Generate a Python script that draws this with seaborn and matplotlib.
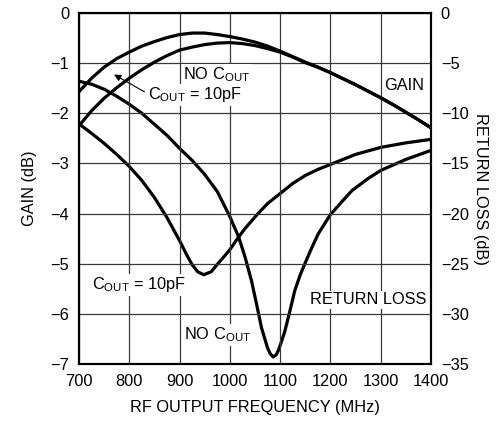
import pandas as pd
import matplotlib
matplotlib.use("Agg")
import matplotlib.pyplot as plt
from matplotlib import font_manager
import seaborn as sns

# gain curves (left axis, dB)
gain_freq = [700, 725, 750, 775, 800, 825, 850, 875, 900, 925, 950, 975, 1000,
             1025, 1050, 1075, 1100, 1125, 1150, 1175, 1200, 1225, 1250, 1275,
             1300, 1325, 1350, 1375, 1400]
gain_10pf = [-1.57, -1.30, -1.08, -0.91, -0.78, -0.66, -0.57, -0.49, -0.43, -0.40,
             -0.40, -0.43, -0.47, -0.52, -0.58, -0.66, -0.76, -0.87, -0.98, -1.08,
             -1.19, -1.31, -1.43, -1.56, -1.69, -1.83, -1.98, -2.13, -2.29]
gain_nocout = [-2.25, -1.95, -1.70, -1.49, -1.30, -1.13, -0.98, -0.85, -0.74, -0.68,
               -0.63, -0.60, -0.59, -0.61, -0.65, -0.71, -0.78, -0.88, -0.99, -1.08,
               -1.19, -1.31, -1.43, -1.56, -1.69, -1.83, -1.98, -2.13, -2.29]

# return loss curves (right axis, dB)
rl_10pf_freq = [700, 725, 750, 775, 800, 825, 850, 875, 900, 915, 925, 936, 948,
                963, 976, 990, 1000, 1018, 1030, 1056, 1075, 1100, 1125, 1150,
                1175, 1200, 1250, 1300, 1350, 1400]
rl_10pf = [-11.05, -12.0, -13.0, -14.1, -15.3, -16.7, -18.4, -20.4, -22.7, -24.2,
           -25.1, -25.8, -26.1, -25.8, -25.0, -24.2, -23.6, -22.3, -21.5, -20.0,
           -19.0, -18.0, -17.0, -16.2, -15.6, -15.1, -14.1, -13.4, -12.95, -12.6]

rl_nocout_freq = [700, 725, 750, 775, 800, 825, 850, 875, 900, 925, 950, 975, 1000,
                  1018, 1030, 1043, 1053, 1063, 1075, 1080, 1086, 1092, 1097, 1109,
                  1119, 1129, 1140, 1150, 1163, 1176, 1200, 1223, 1243, 1275, 1300,
                  1350, 1400]
rl_nocout = [-6.8, -7.1, -7.6, -8.3, -9.1, -10.0, -11.1, -12.2, -13.5, -14.7, -16.1,
             -17.8, -20.3, -22.4, -24.3, -26.7, -29.0, -31.4, -33.4, -33.95, -34.3,
             -34.1, -33.6, -31.8, -29.8, -27.7, -26.1, -24.9, -23.4, -22.0, -20.1,
             -18.8, -17.7, -16.5, -15.7, -14.6, -13.7]

x_ticks = [700, 800, 900, 1000, 1100, 1200, 1300, 1400]
gain_ticks = [0, -1, -2, -3, -4, -5, -6, -7]
rl_ticks = [0, -5, -10, -15, -20, -25, -30, -35]

sns.set_style("white")

# pick a narrow sans if there is one, else Liberation Sans
installed = {f.name for f in font_manager.fontManager.ttflist}
main_font = "Liberation Sans"
for cand in ["Liberation Sans Narrow", "DejaVu Sans Condensed"]:
    if cand in installed:
        main_font = cand
        break
plt.rcParams["font.family"] = [main_font, "DejaVu Sans"]
plt.rcParams["mathtext.fontset"] = "custom"
plt.rcParams["mathtext.rm"] = main_font
plt.rcParams["text.color"] = "black"
plt.rcParams["axes.labelcolor"] = "black"
fs = 12.5 if main_font != "Liberation Sans" else 11.8

fig = plt.figure(figsize=(4.98, 4.21), dpi=100)
ax = fig.add_axes([79 / 498, 1 - 364 / 421, (431 - 79) / 498, (364 - 13) / 421])
ax2 = ax.twinx()

lw = 2.3
sns.lineplot(x=gain_freq, y=gain_10pf, ax=ax, color="black", lw=lw, estimator=None)
sns.lineplot(x=gain_freq, y=gain_nocout, ax=ax, color="black", lw=lw, estimator=None)
sns.lineplot(x=rl_10pf_freq, y=rl_10pf, ax=ax2, color="black", lw=lw, estimator=None)
sns.lineplot(x=rl_nocout_freq, y=rl_nocout, ax=ax2, color="black", lw=lw, estimator=None)

ax.set_xlim(700, 1400)
ax.set_ylim(-7, 0)
ax2.set_ylim(-35, 0)
ax.set_xticks(x_ticks)
ax.set_yticks(gain_ticks)
ax2.set_yticks(rl_ticks)
ax.grid(True, color="#3a3a3a", lw=0.9)
ax.set_axisbelow(True)

for a in (ax, ax2):
    a.tick_params(length=0, labelsize=fs, pad=7, colors="black")
    for s in a.spines.values():
        s.set_linewidth(1.5)
        s.set_color("black")

ax.set_xlabel("RF OUTPUT FREQUENCY (MHz)", fontsize=fs, labelpad=8)
ax.set_ylabel("GAIN (dB)", fontsize=fs, labelpad=10)
ax2.set_ylabel("RETURN LOSS (dB)", fontsize=fs, rotation=-90, labelpad=14)

box = dict(facecolor="white", edgecolor="none", pad=1)
lab = dict(fontsize=fs, ha="center", va="center", bbox=box, zorder=5, color="black")
ax.text(974, -1.23, r"NO C$_\mathregular{OUT}$", **lab)
ax.text(931, -1.63, r"C$_\mathregular{OUT}$ = 10pF", **lab)
ax.text(1347, -1.44, "GAIN", **lab)
ax.text(819, -5.42, r"C$_\mathregular{OUT}$ = 10pF", **lab)
ax.text(976, -6.42, r"NO C$_\mathregular{OUT}$", **lab)
ax.text(1275, -5.72, "RETURN LOSS", **lab)
ax.annotate("", xy=(765, -1.20), xytext=(835, -1.60),
            arrowprops=dict(arrowstyle="-|>", lw=0.8, color="black", mutation_scale=10))

ax.set_zorder(ax2.get_zorder() + 1)
ax.patch.set_visible(False)

fig.savefig("out.png", dpi=100)
